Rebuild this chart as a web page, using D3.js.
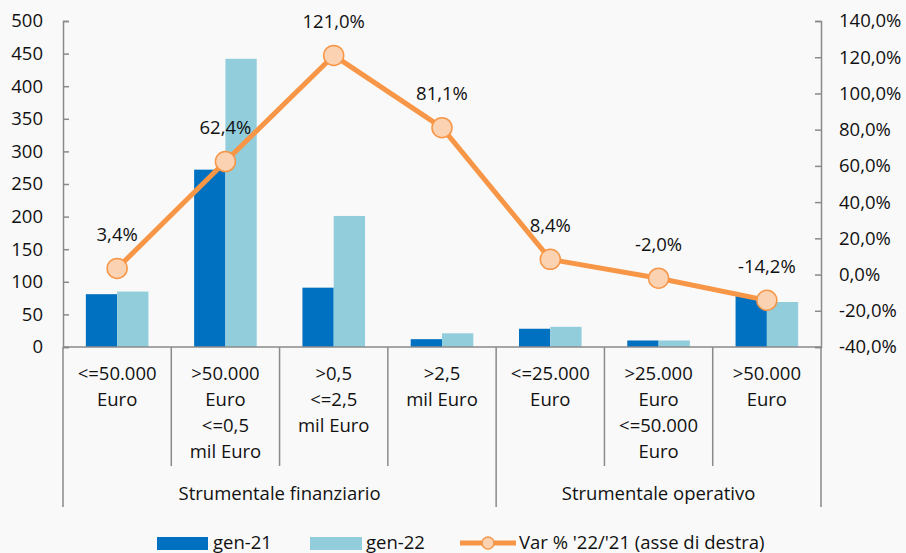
<!DOCTYPE html>
<html>
<head>
<meta charset="utf-8">
<script src="https://cdn.jsdelivr.net/npm/d3@7"></script>
<style>
  body { margin: 0; background: #f9f9f9; }
  svg text { font-family: "Open Sans", Lato, sans-serif; fill: #111; }
</style>
</head>
<body>
<div id="chart"></div>
<script>
var categories = ['<=50.000|Euro', '>50.000|Euro|<=0,5|mil Euro', '>0,5|<=2,5|mil Euro', '>2,5|mil Euro',
                  '<=25.000|Euro', '>25.000|Euro|<=50.000|Euro', '>50.000|Euro']
var groups = [ { name: 'Strumentale finanziario', n: 4 }, { name: 'Strumentale operativo', n: 3 } ]
var gen21 = [81, 272, 91, 12, 28, 10, 78]
var gen22 = [85, 442, 201, 21, 31, 10, 69]
var varPct = [3.4, 62.4, 121.0, 81.1, 8.4, -2.0, -14.2]
var leftTicks = [0, 50, 100, 150, 200, 250, 300, 350, 400, 450, 500]
var rightTicks = [-40, -20, 0, 20, 40, 60, 80, 100, 120, 140]

var W = 906, H = 553
var plotL = 63, plotR = 821, plotT = 21, plotB = 347
var axisColor = '#8a8a8a'
var fs = 18.5
var fmt = function(v){ return v.toFixed(1).replace('.', ',') + '%' }

var svg = d3.select('#chart').append('svg').attr('width', W).attr('height', H)
svg.append('rect').attr('width', W).attr('height', H).attr('fill', '#f9f9f9')

var x = d3.scaleBand().domain(d3.range(categories.length)).range([plotL, plotR])
var xInner = d3.scaleBand().domain(['a', 'b']).range([0, x.bandwidth()]).paddingOuter(0.73).paddingInner(0)
var y = d3.scaleLinear().domain([0, 500]).range([plotB, plotT])
var y2 = d3.scaleLinear().domain([-40, 140]).range([plotB, plotT])

// bars
var bars = svg.append('g')
bars.selectAll('rect.g21').data(gen21).enter().append('rect')
  .attr('x', function(d, i){ return x(i) + xInner('a') })
  .attr('width', xInner.bandwidth())
  .attr('y', function(d){ return y(d) })
  .attr('height', function(d){ return y(0) - y(d) })
  .attr('fill', '#0070C0')
bars.selectAll('rect.g22').data(gen22).enter().append('rect')
  .attr('x', function(d, i){ return x(i) + xInner('b') })
  .attr('width', xInner.bandwidth())
  .attr('y', function(d){ return y(d) })
  .attr('height', function(d){ return y(0) - y(d) })
  .attr('fill', '#92CDDC')

// left axis
var ga = svg.append('g').attr('transform', 'translate(' + plotL + ',0)')
  .call(d3.axisRight(y).tickValues(leftTicks).tickSize(6).tickFormat(''))
ga.selectAll('line,path').attr('stroke', axisColor).attr('stroke-width', 1.5)
svg.append('g').selectAll('text').data(leftTicks).enter().append('text')
  .attr('x', 43).attr('y', function(d){ return y(d) }).attr('dy', '0.35em')
  .attr('text-anchor', 'end').attr('font-size', fs).text(function(d){ return d })

// right axis
var gb = svg.append('g').attr('transform', 'translate(' + plotR + ',0)')
  .call(d3.axisLeft(y2).tickValues(rightTicks).tickSize(6).tickFormat(''))
gb.selectAll('line,path').attr('stroke', axisColor).attr('stroke-width', 1.5)
svg.append('g').selectAll('text').data(rightTicks).enter().append('text')
  .attr('x', 839).attr('y', function(d){ return y2(d) }).attr('dy', '0.35em')
  .attr('font-size', fs).text(fmt)

// x axis with category dividers
svg.append('line').attr('x1', plotL).attr('x2', plotR).attr('y1', plotB).attr('y2', plotB)
  .attr('stroke', axisColor).attr('stroke-width', 1.5)
var bounds = [0]
groups.forEach(function(g){ bounds.push(bounds[bounds.length - 1] + g.n) })
d3.range(categories.length + 1).forEach(function(i){
  var xx = i < categories.length ? x(i) : plotR
  var long = bounds.indexOf(i) >= 0
  svg.append('line').attr('x1', xx).attr('x2', xx).attr('y1', plotB).attr('y2', long ? 507 : 466)
    .attr('stroke', axisColor).attr('stroke-width', 1.5)
})
categories.forEach(function(c, i){
  var t = svg.append('text').attr('text-anchor', 'middle').attr('font-size', fs)
  c.split('|').forEach(function(line, k){
    t.append('tspan').attr('x', x(i) + x.bandwidth() / 2).attr('y', 380 + k * 26).text(line)
  })
})
groups.forEach(function(g, k){
  var x0 = x(bounds[k]), x1 = bounds[k + 1] < categories.length ? x(bounds[k + 1]) : plotR
  svg.append('text').attr('x', (x0 + x1) / 2).attr('y', 500).attr('text-anchor', 'middle')
    .attr('font-size', fs).text(g.name)
})

// line series
var cx = function(d, i){ return x(i) + x.bandwidth() / 2 }
svg.append('path').datum(varPct)
  .attr('d', d3.line().x(cx).y(function(d){ return y2(d) }))
  .attr('fill', 'none').attr('stroke', '#F79646').attr('stroke-width', 5).attr('stroke-linejoin', 'round')
svg.append('g').selectAll('circle').data(varPct).enter().append('circle')
  .attr('cx', cx).attr('cy', function(d){ return y2(d) }).attr('r', 10)
  .attr('fill', '#FBD3B3').attr('stroke', '#F79646').attr('stroke-width', 1.5)
svg.append('g').selectAll('text').data(varPct).enter().append('text')
  .attr('x', cx).attr('y', function(d){ return y2(d) - 34 }).attr('dy', '0.35em')
  .attr('text-anchor', 'middle').attr('font-size', fs).text(fmt)

// legend
var lg = svg.append('g')
lg.append('rect').attr('x', 157).attr('y', 537).attr('width', 51).attr('height', 13).attr('fill', '#0070C0')
lg.append('text').attr('x', 213).attr('y', 543).attr('dy', '0.35em').attr('font-size', fs).text('gen-21')
lg.append('rect').attr('x', 310).attr('y', 537).attr('width', 52).attr('height', 13).attr('fill', '#92CDDC')
lg.append('text').attr('x', 366).attr('y', 543).attr('dy', '0.35em').attr('font-size', fs).text('gen-22')
lg.append('line').attr('x1', 460).attr('x2', 516).attr('y1', 543).attr('y2', 543)
  .attr('stroke', '#F79646').attr('stroke-width', 5)
lg.append('circle').attr('cx', 488).attr('cy', 543).attr('r', 6)
  .attr('fill', '#FBD3B3').attr('stroke', '#F79646').attr('stroke-width', 1.5)
lg.append('text').attr('x', 519).attr('y', 543).attr('dy', '0.35em').attr('font-size', fs)
  .text("Var % '22/'21 (asse di destra)")
</script>
</body>
</html>
